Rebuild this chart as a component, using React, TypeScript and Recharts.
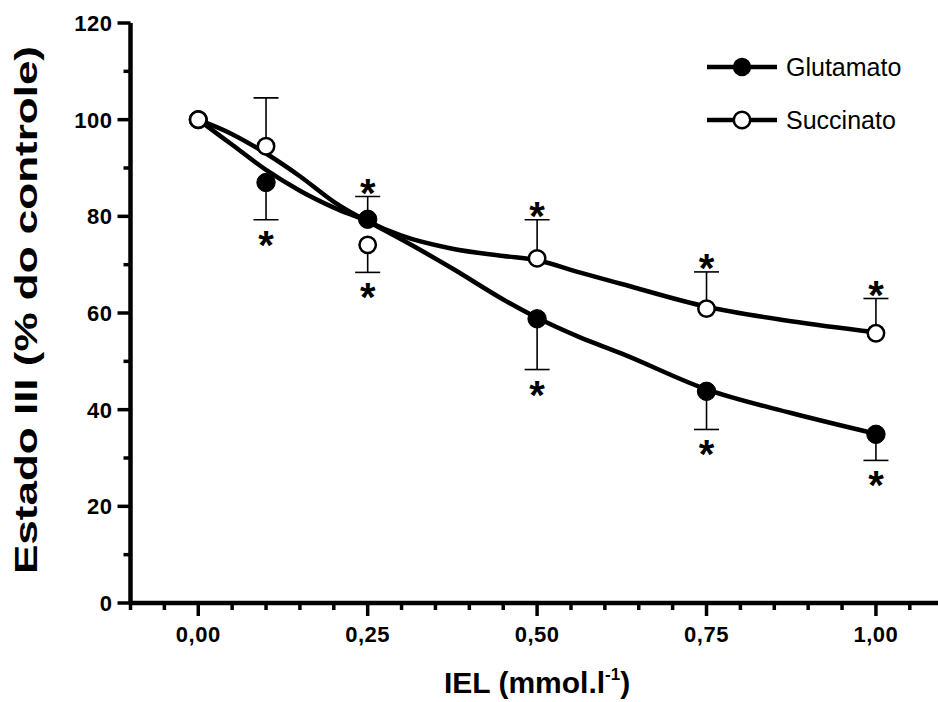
import React from "react";
import { ComposedChart, Line, Scatter, XAxis, YAxis, ErrorBar, Label, Legend } from "recharts";

const doses = [0, 0.1, 0.25, 0.5, 0.75, 1.0];
const glutamato = [100, 87, 79.4, 58.8, 43.8, 34.9];
const succinato = [100, 94.5, 74.1, 71.3, 60.9, 55.8];

// only one side of each error bar is drawn in the figure (null = none)
const glutamatoTip = [null, 79.3, 84.1, 48.3, 35.9, 29.5];
const succinatoTip = [null, 104.5, 68.4, 79.3, 68.5, 63];
const glutamatoStar = [false, true, true, true, true, true];
const succinatoStar = [false, false, true, true, true, true];

// fitted curves
const curveX = [0, 0.05, 0.1, 0.15, 0.2, 0.25, 0.3, 0.375, 0.45, 0.5, 0.5625, 0.625, 0.75, 0.875, 1.0];
const glutamatoCurve = [100, 94.8, 89.6, 85.3, 81.8, 78.9, 75.2, 69.2, 62.8, 59, 55, 51.6, 44.2, 39.3, 35];
const succinatoCurve = [100, 97, 93, 88.3, 83, 79, 76, 73.3, 71.8, 70.9, 68.4, 66, 61.3, 58.3, 56];

const xTicks = [-0.1, -0.05, 0, 0.05, 0.1, 0.15, 0.2, 0.25, 0.3, 0.35, 0.4, 0.45, 0.5, 0.55, 0.6, 0.65, 0.7, 0.75, 0.8, 0.85, 0.9, 0.95, 1.0, 1.05, 1.1];
const xMajor = [0, 0.25, 0.5, 0.75, 1.0];
const xLabels = ["0,00", "0,25", "0,50", "0,75", "1,00"];
const yTicks = [0, 10, 20, 30, 40, 50, 60, 70, 80, 90, 100, 110, 120];
const yMajor = [0, 20, 40, 60, 80, 100, 120];

const FONT = "'Liberation Sans', Arial, Helvetica, sans-serif";

const toPts = (ys: number[]) => doses.map((x, i) => ({ x, y: ys[i] }));
const toCurve = (ys: number[]) => curveX.map((x, i) => ({ x, y: ys[i] }));
const toTips = (means: number[], tips: (number | null)[], stars: boolean[]) =>
  doses
    .map((x, i) => {
      const tip = tips[i];
      if (tip == null) return null;
      const up = tip > means[i];
      return {
        x,
        y: tip,
        up,
        star: stars[i],
        err: up ? [tip - means[i], 0] : [0, means[i] - tip],
      };
    })
    .filter(Boolean);

const near = (a: number, b: number) => Math.abs(a - b) < 1e-6;

function XTick(props: any) {
  const { x, y, payload, labels } = props;
  const i = xMajor.findIndex((v) => near(v, payload.value));
  const len = i >= 0 ? 13 : 7;
  return (
    <g>
      <line x1={x} y1={y} x2={x} y2={y + len} stroke="#000" strokeWidth={3.5} />
      {labels && i >= 0 && (
        <text x={x} y={y + 39} textAnchor="middle" fontFamily={FONT} fontWeight="bold" fontSize={22} letterSpacing={0.5} fill="#000">
          {xLabels[i]}
        </text>
      )}
    </g>
  );
}

function YTick(props: any) {
  const { x, y, payload, labels } = props;
  const major = yMajor.some((v) => near(v, payload.value));
  const len = major ? 13 : 7;
  return (
    <g>
      <line x1={x} y1={y} x2={x - len} y2={y} stroke="#000" strokeWidth={3.5} />
      {labels && major && (
        <text x={x - 18} y={y + 8} textAnchor="end" fontFamily={FONT} fontWeight="bold" fontSize={22} letterSpacing={0.5} fill="#000">
          {payload.value}
        </text>
      )}
    </g>
  );
}

const filledDot = (p: any) => <circle cx={p.cx} cy={p.cy} r={9.2} fill="#000" stroke="#000" strokeWidth={1} />;
const openDot = (p: any) => <circle cx={p.cx} cy={p.cy} r={8.2} fill="#fff" stroke="#000" strokeWidth={2.5} />;

const capShape = (p: any) => {
  const { cx, cy, payload } = p;
  return (
    <g>
      <line x1={cx - 12.5} y1={cy} x2={cx + 12.5} y2={cy} stroke="#000" strokeWidth={1.6} />
      {payload.star && (
        <text x={cx} y={payload.up ? cy + 10 : cy + 39} textAnchor="middle" fontFamily={FONT} fontWeight="bold" fontSize={40} fill="#000">
          *
        </text>
      )}
    </g>
  );
};

function LegendBox() {
  const rows = [
    { name: "Glutamato", y: 27, filled: true },
    { name: "Succinato", y: 80, filled: false },
  ];
  return (
    <svg width={238} height={110} style={{ display: "block" }}>
      {rows.map((r) => (
        <g key={r.name}>
          <line x1={7} y1={r.y} x2={77} y2={r.y} stroke="#000" strokeWidth={4.5} />
          {r.filled ? (
            <circle cx={42} cy={r.y} r={9.2} fill="#000" />
          ) : (
            <circle cx={42} cy={r.y} r={8.2} fill="#fff" stroke="#000" strokeWidth={2.5} />
          )}
          <text x={86} y={r.y + 9} fontFamily={FONT} fontSize={25} fill="#000">
            {r.name}
          </text>
        </g>
      ))}
    </svg>
  );
}

const XTitle = (p: any) => {
  const vb = p.viewBox;
  return (
    <text x={vb.x + vb.width / 2} y={vb.y + 90} textAnchor="middle" fontFamily={FONT} fontWeight="bold" fontSize={30} fill="#000">
      IEL (mmol.l
      <tspan dy={-13} fontSize={17}>-1</tspan>
      <tspan dy={13}>)</tspan>
    </text>
  );
};

const YTitle = (p: any) => {
  const vb = p.viewBox;
  const cy = vb.y + vb.height / 2 - 3;
  return (
    <text transform={`translate(${vb.x - 23.5}, ${cy}) rotate(-90)`} x={0} y={0} textAnchor="middle" fontFamily={FONT} fontWeight="bold" fontSize={31} textLength={528} lengthAdjust="spacingAndGlyphs" fill="#000">
      Estado III (% do controle)
    </text>
  );
};

export default function App() {
  const axisLine = { stroke: "#000", strokeWidth: 4.5 };
  return (
    <div style={{ position: "absolute", left: 0, top: 0, width: 938, height: 702, overflow: "hidden", background: "#fff" }}>
      <ComposedChart width={960} height={702} margin={{ top: 23, right: 16.3, bottom: 19, left: 60.5 }}>
        <XAxis xAxisId="b" dataKey="x" type="number" domain={[-0.1, 1.1]} ticks={xTicks} interval={0} allowDataOverflow height={80} axisLine={axisLine} tickLine={false} tickSize={0} tickMargin={0} tick={(p: any) => <XTick {...p} labels />}>
          <Label content={XTitle} />
        </XAxis>
        <XAxis xAxisId="t" orientation="top" dataKey="x" type="number" domain={[-0.1, 1.1]} ticks={xTicks} interval={0} allowDataOverflow height={0} axisLine={axisLine} tickLine={false} tickSize={0} tickMargin={0} tick={(p: any) => <XTick {...p} />} />
        <YAxis yAxisId="l" type="number" domain={[0, 120]} ticks={yTicks} interval={0} allowDataOverflow width={70} axisLine={axisLine} tickLine={false} tickSize={0} tickMargin={0} tick={(p: any) => <YTick {...p} labels />}>
          <Label content={YTitle} />
        </YAxis>
        <YAxis yAxisId="r" orientation="right" type="number" domain={[0, 120]} ticks={yTicks} interval={0} allowDataOverflow width={0} axisLine={axisLine} tickLine={false} tickSize={0} tickMargin={0} tick={(p: any) => <YTick {...p} />} />

        <Legend layout="vertical" align="center" verticalAlign="middle" wrapperStyle={{ position: "absolute", left: 700, top: 40, width: 238 }} content={() => <LegendBox />} />

        <Line xAxisId="t" yAxisId="r" data={toCurve(glutamatoCurve)} dataKey="y" stroke="none" dot={false} activeDot={false} legendType="none" isAnimationActive={false} />
        <Line xAxisId="b" yAxisId="l" data={toCurve(glutamatoCurve)} dataKey="y" type="monotone" stroke="#000" strokeWidth={4.5} dot={false} activeDot={false} isAnimationActive={false} />
        <Line xAxisId="b" yAxisId="l" data={toCurve(succinatoCurve)} dataKey="y" type="monotone" stroke="#000" strokeWidth={4.5} dot={false} activeDot={false} isAnimationActive={false} />

        <Scatter xAxisId="b" yAxisId="l" data={toTips(glutamato, glutamatoTip, glutamatoStar)} dataKey="y" shape={capShape} isAnimationActive={false}>
          <ErrorBar dataKey="err" direction="y" width={0} stroke="#000" strokeWidth={1.6} />
        </Scatter>
        <Scatter xAxisId="b" yAxisId="l" data={toTips(succinato, succinatoTip, succinatoStar)} dataKey="y" shape={capShape} isAnimationActive={false}>
          <ErrorBar dataKey="err" direction="y" width={0} stroke="#000" strokeWidth={1.6} />
        </Scatter>

        <Scatter xAxisId="b" yAxisId="l" data={toPts(glutamato)} dataKey="y" shape={filledDot} isAnimationActive={false} />
        <Scatter xAxisId="b" yAxisId="l" data={toPts(succinato)} dataKey="y" shape={openDot} isAnimationActive={false} />
      </ComposedChart>
    </div>
  );
}
